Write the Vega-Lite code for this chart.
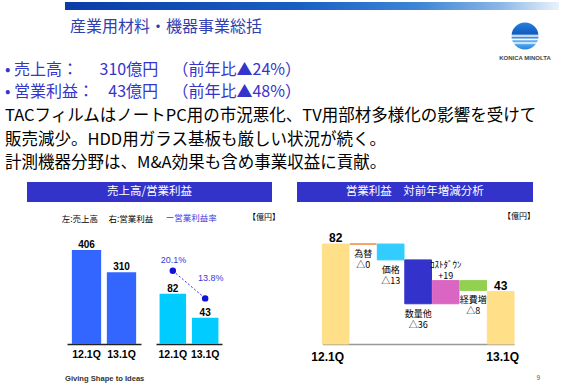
{
  "$schema": "https://vega.github.io/schema/vega-lite/v6.json",
  "background": "#ffffff",
  "padding": {"left": 0, "top": 2, "right": 0, "bottom": 0},
  "config": {
    "view": {"stroke": null},
    "font": "Noto Sans CJK JP",
    "title": {"fontWeight": "normal", "font": "Noto Sans CJK JP", "subtitleFont": "Noto Sans CJK JP"},
    "text": {"font": "Noto Sans CJK JP"}
  },
  "columns": 6,
  "spacing": {"row": 0, "column": 0},
  "bounds": "flush",
  "align": "each",
  "concat": [
    {"width": 1, "height": 21, "data": {"values": []}, "mark": {"type": "text"}, "encoding": {}},
    {
      "width": 245, "height": 8,
      "data": {"values": [{"band": "header"}]},
      "mark": {"type": "rect", "color": {"gradient": "linear", "x1": 0, "x2": 1, "y1": 0, "y2": 0,
        "stops": [
          {"offset": 0, "color": "#ffffff"},
          {"offset": 0.1551, "color": "#ffffff"},
          {"offset": 0.1552, "color": "#0a3ca8"},
          {"offset": 1, "color": "#185bc1"}]}},
      "encoding": {},
      "title": {"text": "産業用材料・機器事業総括", "orient": "bottom", "anchor": "start", "frame": "group", "dx": 43, "offset": 9, "fontSize": 16, "color": "#3040b0"}
    },
    {"width": 25, "height": 8, "data": {"values": [{"band": "header"}]},
     "mark": {"type": "rect", "color": {"gradient": "linear", "x1": 0, "x2": 1, "y1": 0, "y2": 0,
       "stops": [{"offset": 0, "color": "#185bc1"}, {"offset": 1, "color": "#1a5ec4"}]}}, "encoding": {}},
    {"width": 215, "height": 8, "data": {"values": [{"band": "header"}]},
     "mark": {"type": "rect", "color": {"gradient": "linear", "x1": 0, "x2": 1, "y1": 0, "y2": 0,
       "stops": [{"offset": 0, "color": "#1a5ec4"}, {"offset": 0.014, "color": "#1a5fc4"}, {"offset": 0.572, "color": "#3f86d6"}, {"offset": 0.944, "color": "#8ab6e6"}, {"offset": 1, "color": "#9ec2ea"}]}}, "encoding": {}},
    {"width": 26, "height": 8, "data": {"values": [{"band": "header"}]},
     "mark": {"type": "rect", "color": {"gradient": "linear", "x1": 0, "x2": 1, "y1": 0, "y2": 0,
       "stops": [{"offset": 0, "color": "#9ec2ea"}, {"offset": 1, "color": "#c8ddf4"}]}}, "encoding": {}},
    {"width": 21, "height": 8, "data": {"values": [{"band": "header"}]},
     "mark": {"type": "rect", "color": {"gradient": "linear", "x1": 0, "x2": 1, "y1": 0, "y2": 0,
       "stops": [{"offset": 0, "color": "#c8ddf4"}, {"offset": 1, "color": "#eaf2fb"}]}}, "encoding": {}},

    {
      "width": 27, "height": 26,
      "data": {"values": []}, "mark": {"type": "text"}, "encoding": {},
      "title": {
        "text": ["• 売上高： \u00a0\u00a0\u00a0\u00a0\u00a0310億円 \u00a0\u00a0\u00a0（前年比▲24%）", "• 営業利益：\u00a0\u00a0\u00a0\u00a043億円 \u00a0\u00a0\u00a0（前年比▲48%）"],
        "subtitle": ["TACフィルムはノートPC用の市況悪化、TV用部材多様化の影響を受けて", "販売減少。HDD用ガラス基板も厳しい状況が続く。", "計測機器分野は、M&A効果も含め事業収益に貢献。"],
        "orient": "bottom", "anchor": "start", "frame": "group", "dx": 5, "offset": 13,
        "fontSize": 16, "color": "#3535cc", "lineHeight": 22,
        "subtitleFontSize": 16.5, "subtitleColor": "#000000", "subtitleLineHeight": 23.5, "subtitlePadding": 8
      }
    },
    {"width": 1, "height": 159, "data": {"values": []}, "mark": {"type": "text"}, "encoding": {}},
    {"width": 1, "height": 1, "data": {"values": []}, "mark": {"type": "text"}, "encoding": {}},
    {"width": 1, "height": 1, "data": {"values": []}, "mark": {"type": "text"}, "encoding": {}},
    {
      "width": 26, "height": 26,
      "data": {"values": [{"brand": "KONICA MINOLTA"}]},
      "mark": {"type": "circle", "size": 729, "opacity": 1, "color": {"gradient": "linear", "x1": 0, "x2": 0, "y1": 0, "y2": 1,
        "stops": [
          {"offset": 0, "color": "#2a7fdc"},
          {"offset": 0.42, "color": "#0f5bc2"},
          {"offset": 0.5, "color": "#ffffff"},
          {"offset": 0.56, "color": "#2a86e0"},
          {"offset": 0.63, "color": "#ffffff"},
          {"offset": 0.69, "color": "#3a96e8"},
          {"offset": 0.76, "color": "#ffffff"},
          {"offset": 0.82, "color": "#4aa4ee"},
          {"offset": 1, "color": "#2a80dc"}]}},
      "encoding": {},
      "title": {"text": "KONICA MINOLTA", "orient": "bottom", "anchor": "middle", "offset": 5.7, "fontSize": 6, "font": "Liberation Sans", "fontWeight": "bold", "color": "#444444"}
    },
    {"width": 1, "height": 1, "data": {"values": []}, "mark": {"type": "text"}, "encoding": {}},

    {"width": 27, "height": 44, "data": {"values": []}, "mark": {"type": "text"}, "encoding": {}},
    {
      "width": 245, "height": 20,
      "data": {"values": [{"panel": "売上高/営業利益"}]},
      "layer": [
        {"mark": {"type": "rect", "color": "#3333cc"}, "encoding": {}},
        {"mark": {"type": "text", "color": "#ffffff", "fontSize": 11.5}, "encoding": {"text": {"field": "panel", "type": "nominal"}}}
      ],
      "title": {"text": "ー営業利益率", "orient": "bottom", "anchor": "start", "frame": "group", "dx": 138.7, "offset": 11.8, "fontSize": 8.5, "color": "#3a3ae0"}
    },
    {
      "width": 25, "height": 1, "data": {"values": []}, "mark": {"type": "text"}, "encoding": {},
      "title": {"text": "【億円】", "orient": "bottom", "anchor": "start", "frame": "group", "dx": -24, "offset": 30.8, "fontSize": 8, "color": "#000000"}
    },
    {
      "width": 215, "height": 20,
      "data": {"values": [{"panel": "営業利益　対前年増減分析"}]},
      "layer": [
        {"mark": {"type": "rect", "color": "#3333cc"}, "encoding": {}},
        {"mark": {"type": "text", "color": "#ffffff", "fontSize": 11.5, "dx": 10.3}, "encoding": {"text": {"field": "panel", "type": "nominal"}}}
      ]
    },
    {
      "width": 21, "height": 20,
      "data": {"values": [{"panel": "営業利益　対前年増減分析"}]},
      "mark": {"type": "rect", "color": "#3333cc"}, "encoding": {},
      "title": {"text": "【億円】", "orient": "bottom", "anchor": "end", "frame": "group", "dx": 2, "offset": 10.8, "fontSize": 8, "color": "#000000"}
    },
    {"width": 1, "height": 1, "data": {"values": []}, "mark": {"type": "text"}, "encoding": {}},

    {
      "width": 27, "height": 118,
      "data": {"values": []}, "mark": {"type": "text"}, "encoding": {},
      "title": {"text": "Giving Shape to Ideas", "orient": "bottom", "anchor": "start", "frame": "group", "dx": 65, "offset": 30.5, "fontSize": 7.6, "font": "Liberation Sans", "fontWeight": "bold", "color": "#333333"}
    },
    {
      "width": 245, "height": 118,
      "title": {"text": "左:売上高　 右:営業利益", "orient": "top", "anchor": "start", "frame": "group", "dx": 34.7, "offset": 3, "fontSize": 8.5, "color": "#000000"},
      "layer": [
        {
          "data": {"values": [{"quarter": "12.1Q", "sales": 406}, {"quarter": "13.1Q", "sales": 310}]},
          "encoding": {
            "x": {"field": "quarter", "type": "nominal", "sort": null,
              "scale": {"range": [40, 114], "paddingInner": 0.163, "paddingOuter": 0.139},
              "axis": {"orient": "bottom", "title": null, "ticks": false, "domainColor": "#222222", "domainWidth": 1.5, "labelFont": "Liberation Sans", "labelFontWeight": "bold", "labelFontSize": 10.5, "labelColor": "#000000", "labelPadding": 5.3, "labelAngle": 0}},
            "y": {"field": "sales", "type": "quantitative", "scale": {"domain": [0, 510], "nice": false}, "axis": null}
          },
          "layer": [
            {"mark": {"type": "bar", "color": "#3366ff"}},
            {"mark": {"type": "text", "baseline": "bottom", "dy": 0, "font": "Liberation Sans", "fontWeight": "bold", "fontSize": 10, "color": "#000000"},
             "encoding": {"text": {"field": "sales", "type": "quantitative"}}}
          ]
        },
        {
          "data": {"values": [{"quarter": "12.1Q", "profit": 82, "margin": 0.201}, {"quarter": "13.1Q", "profit": 43, "margin": 0.138}]},
          "encoding": {
            "x": {"field": "quarter", "type": "nominal", "sort": null,
              "scale": {"range": [129, 195], "paddingInner": 0.18, "paddingOuter": 0.11},
              "axis": {"orient": "bottom", "title": null, "ticks": false, "domainColor": "#222222", "domainWidth": 1.5, "labelFont": "Liberation Sans", "labelFontWeight": "bold", "labelFontSize": 10.5, "labelColor": "#000000", "labelPadding": 5.3, "labelAngle": 0}}
          },
          "layer": [
            {
              "encoding": {"y": {"field": "profit", "type": "quantitative", "scale": {"domain": [0, 193], "nice": false}, "axis": null}},
              "layer": [
                {"mark": {"type": "bar", "color": "#00ccff"}},
                {"mark": {"type": "text", "baseline": "bottom", "dy": 0, "font": "Liberation Sans", "fontWeight": "bold", "fontSize": 10, "color": "#000000"},
                 "encoding": {"text": {"field": "profit", "type": "quantitative"}}}
              ]
            },
            {
              "encoding": {"y": {"field": "margin", "type": "quantitative", "scale": {"domain": [0.034, 0.303], "nice": false, "zero": false}, "axis": null}},
              "layer": [
                {"mark": {"type": "line", "color": "#3333ff", "strokeDash": [2, 2], "strokeWidth": 1}, "encoding": {}},
                {"mark": {"type": "circle", "size": 42, "color": "#1212d6", "opacity": 1}},
                {"transform": [{"filter": "datum.quarter === '12.1Q'"}],
                 "mark": {"type": "text", "dy": -11.1, "dx": 0.8, "font": "Liberation Sans", "fontSize": 9, "color": "#3838e8"},
                 "encoding": {"text": {"field": "margin", "type": "quantitative", "format": ".1%"}}},
                {"transform": [{"filter": "datum.quarter === '13.1Q'"}],
                 "mark": {"type": "text", "dy": -20.8, "dx": 5.6, "font": "Liberation Sans", "fontSize": 9, "color": "#3838e8"},
                 "encoding": {"text": {"field": "margin", "type": "quantitative", "format": ".1%"}}}
              ]
            }
          ],
          "resolve": {"scale": {"y": "independent"}}
        }
      ],
      "resolve": {"scale": {"x": "independent", "y": "independent"}}
    },
    {"width": 1, "height": 1, "data": {"values": []}, "mark": {"type": "text"}, "encoding": {}},
    {
      "width": 215, "height": 118,
      "data": {"values": [
        {"item": "12.1Q", "from": 0, "to": 82, "kind": "total", "label": "82"},
        {"item": "為替", "from": 82, "to": 82, "kind": "down", "label": "為替\n△0"},
        {"item": "価格", "from": 82, "to": 69, "kind": "down", "label": "価格\n△13"},
        {"item": "数量他", "from": 69, "to": 33, "kind": "down", "label": "数量他\n△36"},
        {"item": "ｺｽﾄﾀﾞｳﾝ", "from": 33, "to": 52, "kind": "up", "label": "ｺｽﾄﾀﾞｳﾝ\n+19"},
        {"item": "経費増", "from": 52, "to": 44, "kind": "down", "label": "経費増\n△8"},
        {"item": "13.1Q", "from": 0, "to": 43, "kind": "total", "label": "43"}
      ]},
      "title": {"text": "9", "orient": "bottom", "anchor": "end", "frame": "group", "dx": 28, "offset": 12, "fontSize": 6.5, "font": "Liberation Sans", "color": "#555555"},
      "encoding": {
        "x": {"field": "item", "type": "nominal", "sort": null,
          "scale": {"range": [25.3, 217], "paddingInner": 0.03, "paddingOuter": 0},
          "axis": {"title": null, "values": ["12.1Q", "13.1Q"], "ticks": false, "domainColor": "#999999", "domainWidth": 1.5, "labelFont": "Liberation Sans", "labelFontWeight": "bold", "labelFontSize": 12, "labelColor": "#000000", "labelPadding": 7.8, "labelAngle": 0,
            "labelOffset": {"condition": {"test": "datum.value === '12.1Q'", "value": -8}, "value": 2}}},
        "y": {"field": "to", "type": "quantitative", "scale": {"domain": [0, 96.8], "nice": false}, "axis": null}
      },
      "layer": [
        {"mark": {"type": "bar", "strokeWidth": 1},
         "encoding": {
           "y": {"field": "from", "type": "quantitative"},
           "y2": {"field": "to"},
           "color": {"field": "item", "type": "nominal", "legend": null,
             "scale": {"domain": ["12.1Q", "為替", "価格", "数量他", "ｺｽﾄﾀﾞｳﾝ", "経費増", "13.1Q"], "range": ["#ffdf87", "#f0883c", "#33ccff", "#3333cc", "#d966c3", "#92d050", "#ffdf87"]}},
           "stroke": {"field": "item", "type": "nominal", "legend": null,
             "scale": {"domain": ["12.1Q", "為替", "価格", "数量他", "ｺｽﾄﾀﾞｳﾝ", "経費増", "13.1Q"], "range": ["#ffdf87", "#f0883c", "#33ccff", "#3333cc", "#d966c3", "#92d050", "#ffdf87"]}}
         }},
        {"transform": [{"filter": "datum.kind === 'total'"}],
         "mark": {"type": "text", "baseline": "bottom", "dy": 1, "font": "Liberation Sans", "fontWeight": "bold", "fontSize": 12, "color": "#000000"},
         "encoding": {"text": {"field": "label", "type": "nominal"}}},
        {"transform": [{"filter": "datum.kind === 'down'"}],
         "mark": {"type": "text", "baseline": "top", "dy": 6, "fontSize": 9, "lineHeight": 11, "lineBreak": "\n", "color": "#000000"},
         "encoding": {"text": {"field": "label", "type": "nominal"}}},
        {"transform": [{"filter": "datum.kind === 'up'"}],
         "mark": {"type": "text", "baseline": "bottom", "dy": -10.5, "fontSize": 9, "lineHeight": 11, "lineBreak": "\n", "color": "#000000"},
         "encoding": {"text": {"field": "label", "type": "nominal"}}}
      ]
    },
    {"width": 1, "height": 1, "data": {"values": []}, "mark": {"type": "text"}, "encoding": {}},
    {"width": 1, "height": 1, "data": {"values": []}, "mark": {"type": "text"}, "encoding": {}}
  ]
}
